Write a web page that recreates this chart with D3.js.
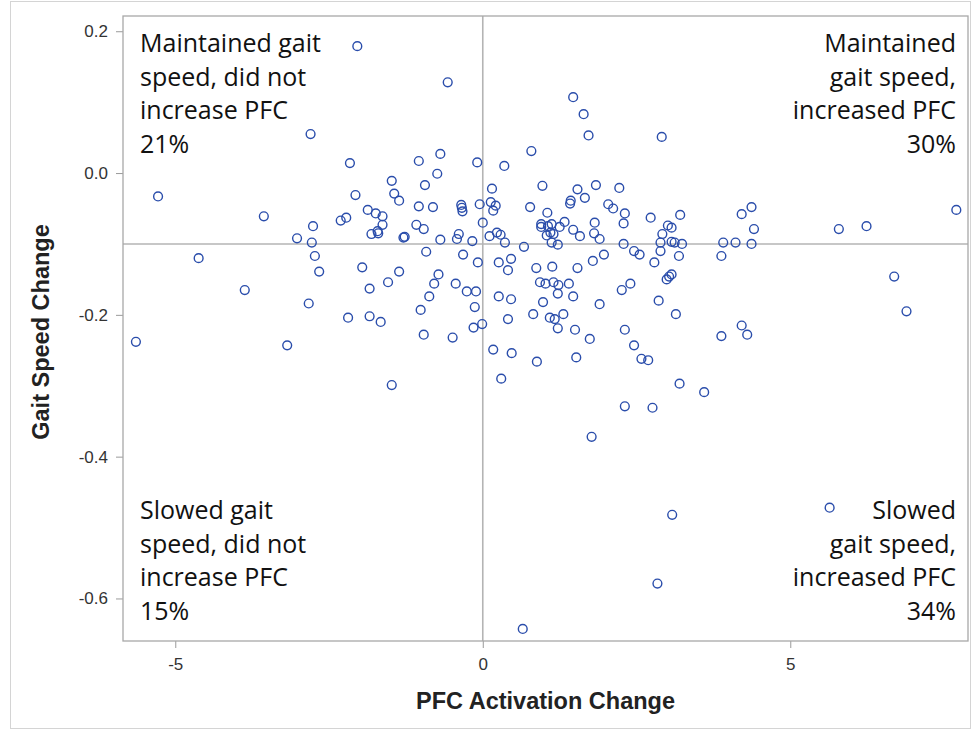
<!DOCTYPE html>
<html>
<head>
<meta charset="utf-8">
<script src="https://cdn.jsdelivr.net/npm/d3@7"></script>
<style>
  body { margin: 0; background: #fff; }
  svg { display: block; }
</style>
</head>
<body>
<div class="canva"></div>
<script>
// PFC activation change (x) and gait speed change (y), one entry per participant
const pfcChange = [
  -2.04, -2.80, -2.16, -5.28, -1.48, -2.07, -1.44, -1.36, -3.56, -1.87,
  -1.74, -1.63, -2.31, -2.22, -2.76, -1.63, -0.57, 1.47, 1.64, 1.72,
  2.91, 0.79, -1.04, -0.69, -0.09, 0.35, -0.74, -0.94, 0.15, 0.97,
  1.54, 1.84, 2.22, 1.66, 1.43, 1.42, -1.04, -0.81, -0.35, -0.34,
  -0.33, -0.05, 0.13, 0.21, 0.17, 0.77, 2.04, 2.12, 2.31, 2.73,
  3.21, 1.05, 4.21, 4.37, 7.70, -1.08, -0.96, -1.29, -1.27, -0.69,
  -0.42, -0.39, -0.17, 0.00, 0.11, 0.23, 0.29, 0.36, 0.67, 0.95,
  0.95, 1.06, 1.12, 1.04, 1.10, 1.15, 1.25, 1.33, 1.12, 1.22,
  1.47, 1.58, 1.82, 1.81, 1.90, 2.29, 2.29, 3.01, 3.07, 2.92,
  2.89, 3.07, 3.12, 3.24, 4.41, 5.79, 6.24, 3.91, 4.11, 4.37,
  -3.02, -2.78, -1.81, -1.71, -1.70, -0.92, -0.32, -0.08, 0.26, 0.46,
  0.41, 0.87, 1.13, 1.54, 1.79, 1.97, 2.46, 2.55, 2.89, 2.79,
  3.19, -0.72, -0.79, -0.87, -1.01, -0.96, -0.44, -0.26, -0.11, -0.13,
  -0.01, -0.15, -0.49, 0.26, 0.46, 0.41, 0.17, 0.47, 0.30, 0.93,
  1.02, 1.15, 1.23, 1.22, 1.40, 0.98, 1.47, 0.82, 1.09, 1.17,
  1.31, 1.22, 1.50, 1.74, 0.88, 1.52, 1.90, 2.26, 2.40, 2.86,
  2.99, 3.07, 3.03, 3.14, 2.31, 2.46, 2.58, 2.69, 3.20, 2.31,
  2.76, 3.88, 6.69, 6.89, 4.21, 3.88, 4.30, 3.60, 5.64, 1.77,
  3.08, 2.84, 0.65, -4.62, -3.87, -5.64, -3.18, -1.48, -2.73, -2.66,
  -2.83, -2.19, -1.84, -1.66, -1.96, -1.84, -1.54, -1.36
];
const gaitChange = [
  0.179, 0.055, 0.014, -0.033, -0.011, -0.031, -0.029, -0.039, -0.061, -0.052,
  -0.057, -0.061, -0.067, -0.063, -0.075, -0.073, 0.128, 0.107, 0.083, 0.053,
  0.051, 0.031, 0.017, 0.027, 0.015, 0.010, -0.001, -0.017, -0.022, -0.018,
  -0.023, -0.017, -0.021, -0.035, -0.039, -0.043, -0.047, -0.048, -0.045, -0.049,
  -0.054, -0.044, -0.041, -0.046, -0.053, -0.048, -0.044, -0.050, -0.057, -0.063,
  -0.059, -0.056, -0.058, -0.048, -0.052, -0.073, -0.079, -0.091, -0.090, -0.094,
  -0.093, -0.086, -0.096, -0.070, -0.089, -0.084, -0.087, -0.098, -0.104, -0.072,
  -0.076, -0.075, -0.072, -0.088, -0.084, -0.086, -0.076, -0.069, -0.098, -0.101,
  -0.080, -0.089, -0.070, -0.085, -0.093, -0.071, -0.100, -0.074, -0.077, -0.086,
  -0.098, -0.097, -0.098, -0.100, -0.079, -0.079, -0.075, -0.098, -0.098, -0.100,
  -0.092, -0.098, -0.086, -0.082, -0.085, -0.111, -0.115, -0.126, -0.126, -0.121,
  -0.137, -0.134, -0.132, -0.134, -0.124, -0.115, -0.110, -0.115, -0.110, -0.126,
  -0.117, -0.143, -0.156, -0.174, -0.193, -0.228, -0.156, -0.167, -0.167, -0.189,
  -0.213, -0.218, -0.232, -0.174, -0.178, -0.206, -0.249, -0.254, -0.290, -0.154,
  -0.156, -0.154, -0.158, -0.170, -0.156, -0.182, -0.174, -0.199, -0.204, -0.206,
  -0.199, -0.219, -0.221, -0.234, -0.266, -0.260, -0.185, -0.165, -0.156, -0.180,
  -0.150, -0.143, -0.146, -0.199, -0.221, -0.243, -0.262, -0.264, -0.297, -0.329,
  -0.331, -0.117, -0.146, -0.195, -0.215, -0.230, -0.228, -0.309, -0.472, -0.372,
  -0.482, -0.579, -0.643, -0.120, -0.165, -0.238, -0.243, -0.299, -0.117, -0.139,
  -0.184, -0.204, -0.202, -0.210, -0.133, -0.163, -0.154, -0.139
];

const xTicks = [-5, 0, 5];
const yTicks = [0.2, 0.0, -0.2, -0.4, -0.6];
const refX = 0;
const refY = -0.1;

const quadrantLines = [
  ["Maintained gait", "speed, did not", "increase PFC", "21%"],
  ["Maintained", "gait speed,", "increased PFC", "30%"],
  ["Slowed gait", "speed, did not", "increase PFC", "15%"],
  ["Slowed", "gait speed,", "increased PFC", "34%"]
];

const width = 972, height = 730;
const plotL = 123, plotR = 968, plotT = 16, plotB = 641;

const svg = d3.select(".canva").append("svg")
  .attr("width", width)
  .attr("height", height);

// outer frame of the picture
svg.append("rect")
  .attr("x", 10.5).attr("y", 1.5)
  .attr("width", 960).attr("height", 727)
  .attr("fill", "none")
  .attr("stroke", "#d4d4d4");

const x = d3.scaleLinear().domain([-5.85, 7.89]).range([plotL, plotR]);
const y = d3.scaleLinear().domain([0.2215, -0.66]).range([plotT, plotB]);

// plain hyphen for negatives, like the original
const hyphen = f => d => f(d).replace("\u2212", "-");

const xAxis = svg.append("g")
  .attr("transform", `translate(0,${plotB})`)
  .call(d3.axisBottom(x).tickValues(xTicks).tickFormat(hyphen(d3.format("d"))).tickSize(7).tickPadding(10));
const yAxis = svg.append("g")
  .attr("transform", `translate(${plotL},0)`)
  .call(d3.axisLeft(y).tickValues(yTicks).tickFormat(hyphen(d3.format(".1f"))).tickSize(7).tickPadding(8));

[xAxis, yAxis].forEach(g => {
  g.select(".domain").remove();
  g.selectAll(".tick line").attr("stroke", "#9a9a9a");
  g.selectAll(".tick text")
    .attr("fill", "#333")
    .attr("font-family", "'Liberation Sans', Arial, sans-serif")
    .attr("font-size", 17);
});

// reference lines
svg.append("line")
  .attr("x1", x(refX)).attr("x2", x(refX))
  .attr("y1", plotT).attr("y2", plotB)
  .attr("stroke", "#b4b4b4").attr("stroke-width", 1.6);
svg.append("line")
  .attr("x1", plotL).attr("x2", plotR)
  .attr("y1", y(refY)).attr("y2", y(refY))
  .attr("stroke", "#b4b4b4").attr("stroke-width", 1.6);

// plot frame
svg.append("rect")
  .attr("x", plotL).attr("y", plotT)
  .attr("width", plotR - plotL).attr("height", plotB - plotT)
  .attr("fill", "none")
  .attr("stroke", "#a8a8a8")
  .attr("stroke-width", 1.3);

// quadrant notes
const noteX = [140, 956, 140, 956];
const noteY = [52, 52, 519, 519];
quadrantLines.forEach((lines, i) => {
  const t = svg.append("text")
    .attr("font-family", "'Open Sans', 'Noto Sans', sans-serif")
    .attr("font-size", 25)
    .attr("fill", "#111")
    .attr("text-anchor", i % 2 ? "end" : "start");
  lines.forEach((s, j) => {
    t.append("tspan")
      .attr("x", noteX[i])
      .attr("y", noteY[i] + j * 33.7)
      .text(s);
  });
});

// points
svg.append("g")
  .selectAll("circle")
  .data(pfcChange.map((v, i) => [v, gaitChange[i]]))
  .join("circle")
  .attr("cx", d => x(d[0]))
  .attr("cy", d => y(d[1]))
  .attr("r", 4.4)
  .attr("fill", "none")
  .attr("stroke", "#2a4dab")
  .attr("stroke-width", 1.4);

// axis titles
svg.append("text")
  .text("PFC Activation Change")
  .attr("x", (plotL + plotR) / 2)
  .attr("y", 709)
  .attr("text-anchor", "middle")
  .attr("font-family", "'Liberation Sans', Arial, sans-serif")
  .attr("font-weight", "bold")
  .attr("font-size", 23.5)
  .attr("fill", "#222");

svg.append("text")
  .text("Gait Speed Change")
  .attr("transform", "translate(49,332) rotate(-90)")
  .attr("text-anchor", "middle")
  .attr("font-family", "'Liberation Sans', Arial, sans-serif")
  .attr("font-weight", "bold")
  .attr("font-size", 23.5)
  .attr("fill", "#222");
</script>
</body>
</html>
